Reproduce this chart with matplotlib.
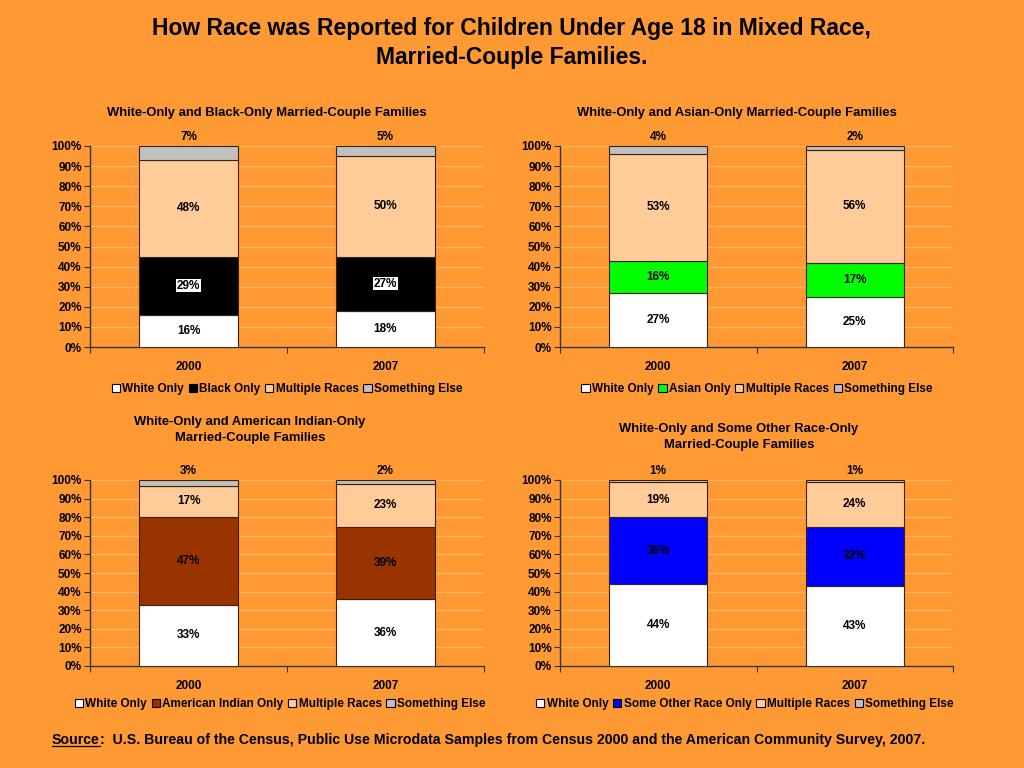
import matplotlib
matplotlib.use('Agg')
import matplotlib.pyplot as plt
from matplotlib.lines import Line2D
import numpy as np

plt.rcParams['font.family'] = ['Liberation Sans', 'DejaVu Sans']
plt.rcParams['font.weight'] = 'bold'

years = ['2000', '2007']

# chart 1: white-only and black-only
bw_white = [16, 18]
bw_black = [29, 27]
bw_multi = [48, 50]
bw_else = [7, 5]

# chart 2: white-only and asian-only
wa_white = [27, 25]
wa_asian = [16, 17]
wa_multi = [53, 56]
wa_else = [4, 2]

# chart 3: white-only and american indian-only
wi_white = [33, 36]
wi_indian = [47, 39]
wi_multi = [17, 23]
wi_else = [3, 2]

# chart 4: white-only and some other race-only
wo_white = [44, 43]
wo_other = [36, 32]
wo_multi = [19, 24]
wo_else = [1, 1]

bg = '#FF9933'
grid_c = '#FFB366'
edge_c = '#3a2410'
peach = '#FFCC99'
gray = '#C0C0C0'

charts = [
    ('White-Only and Black-Only Married-Couple Families',
     [bw_white, bw_black, bw_multi, bw_else],
     ['White Only', 'Black Only', 'Multiple Races', 'Something Else'],
     ['white', 'black', peach, gray]),
    ('White-Only and Asian-Only Married-Couple Families',
     [wa_white, wa_asian, wa_multi, wa_else],
     ['White Only', 'Asian Only', 'Multiple Races', 'Something Else'],
     ['white', '#00FF00', peach, gray]),
    ('White-Only and American Indian-Only\nMarried-Couple Families',
     [wi_white, wi_indian, wi_multi, wi_else],
     ['White Only', 'American Indian Only', 'Multiple Races', 'Something Else'],
     ['white', '#993300', peach, gray]),
    ('White-Only and Some Other Race-Only\nMarried-Couple Families',
     [wo_white, wo_other, wo_multi, wo_else],
     ['White Only', 'Some Other Race Only', 'Multiple Races', 'Something Else'],
     ['white', '#0000FF', peach, gray]),
]

# axes rectangles (figure fractions)
rects = [
    [90 / 1024, 1 - 347 / 768, 394 / 1024, 201 / 768],
    [560 / 1024, 1 - 347 / 768, 393 / 1024, 201 / 768],
    [90 / 1024, 1 - 666 / 768, 394 / 1024, 186 / 768],
    [560 / 1024, 1 - 666 / 768, 393 / 1024, 186 / 768],
]
title_y = [113, 113, 430, 437]
title_x = [267, 737, 250, 739]
legend_y = [389, 389, 704, 704]
legend_x = [287, 757, 280, 745]

fig = plt.figure(figsize=(10.24, 7.68), dpi=100)
fig.patch.set_facecolor(bg)

fig.text(512 / 1024, 1 - 43 / 768,
         'How Race was Reported for Children Under Age 18 in Mixed Race,\nMarried-Couple Families.',
         ha='center', va='center', fontsize=16.5, fontweight='bold', linespacing=1.3)

x = np.arange(len(years))
for i, (title, series, names, colors) in enumerate(charts):
    ax = fig.add_axes(rects[i])
    ax.set_facecolor(bg)
    bottom = np.zeros(len(years))
    handles = []
    for j, (vals, name, col) in enumerate(zip(series, names, colors)):
        vals = np.array(vals, dtype=float)
        h = ax.bar(x, vals, 0.5, bottom=bottom, color=col, edgecolor=edge_c,
                   linewidth=0.8, label=name, zorder=3)
        handles.append(h)
        for k in range(len(years)):
            if j == len(series) - 1:
                ax.annotate('%d%%' % vals[k], (x[k], 100), xytext=(0, 2),
                            textcoords='offset points', ha='center', va='bottom',
                            fontsize=8.5, fontweight='bold', zorder=5)
            else:
                kw = {}
                if col == 'black':
                    kw['bbox'] = dict(facecolor='white', edgecolor='none', pad=0.5)
                ax.text(x[k], bottom[k] + vals[k] / 2, '%d%%' % vals[k],
                        ha='center', va='center', fontsize=8.5, fontweight='bold',
                        color='black', zorder=5, **kw)
        bottom += vals

    ax.set_xlim(-0.5, 1.5)
    ax.set_ylim(0, 100)
    ax.set_yticks(np.arange(0, 101, 10))
    ax.set_yticklabels(['%d%%' % v for v in range(0, 101, 10)])
    ax.yaxis.grid(True, color=grid_c, linewidth=1, zorder=0)
    ax.set_axisbelow(True)
    ax.set_xticks([-0.5, 0.5, 1.5])
    ax.set_xticklabels([])
    ax.set_xticks(x, minor=True)
    ax.set_xticklabels(years, minor=True)
    ax.tick_params(axis='x', which='minor', length=0, pad=10, labelsize=8.5)
    ax.tick_params(axis='x', which='major', length=4, direction='out', color='#333333')
    ax.tick_params(axis='y', length=4, direction='out', labelsize=8.5, pad=2, color='#333333')
    for lab in ax.get_yticklabels() + ax.get_xticklabels(minor=True):
        lab.set_fontweight('bold')
    for s in ['top', 'right']:
        ax.spines[s].set_visible(False)
    for s in ['left', 'bottom']:
        ax.spines[s].set_color('#333333')
        ax.spines[s].set_linewidth(1)

    fig.text(title_x[i] / 1024, 1 - title_y[i] / 768, title, ha='center', va='center',
             fontsize=9.4, fontweight='bold', linespacing=1.35)

    leg = fig.legend(handles=handles, labels=names, loc='center', ncol=4,
                     bbox_to_anchor=(legend_x[i] / 1024, 1 - legend_y[i] / 768),
                     frameon=False, fontsize=8.5, handlelength=0.7, handleheight=0.7,
                     handletextpad=0.2, columnspacing=0.4, borderaxespad=0)
    for t in leg.get_texts():
        t.set_fontweight('bold')
    for p in leg.get_patches():
        p.set_edgecolor('black')
        p.set_linewidth(0.8)

# source line with underlined "Source"
src_y = 1 - 740 / 768
t1 = fig.text(52 / 1024, src_y, 'Source', ha='left', va='center',
              fontsize=10.2, fontweight='bold')
fig.canvas.draw()
r = fig.canvas.get_renderer()
bb = t1.get_window_extent(r).transformed(fig.transFigure.inverted())
fig.add_artist(Line2D([bb.x0, bb.x1], [bb.y0 + 0.001, bb.y0 + 0.001],
                      color='black', linewidth=0.9, transform=fig.transFigure))
fig.text(bb.x1, src_y,
         ':  U.S. Bureau of the Census, Public Use Microdata Samples from Census 2000 and the American Community Survey, 2007.',
         ha='left', va='center', fontsize=10.2, fontweight='bold')

fig.savefig('out.png', dpi=100, facecolor=bg)
